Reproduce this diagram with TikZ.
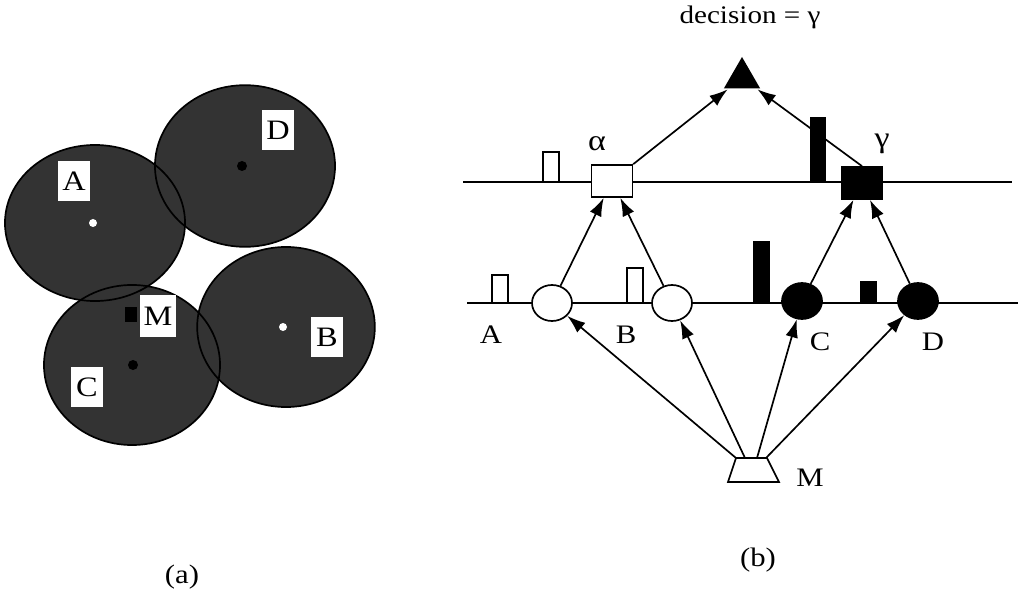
\documentclass[tikz,border=0pt]{standalone}
\usepackage{fontspec}
\setmainfont{Liberation Serif}
\newfontfamily\labfont[FakeStretch=1.15]{Liberation Serif}
\usetikzlibrary{arrows.meta,positioning,shapes.geometric,calc}

\tikzset{
  lab/.style={font=\labfont\fontsize{19}{22}\selectfont,inner sep=0pt},
  greek/.style={font=\labfont\fontsize{21}{24}\selectfont,inner sep=0pt},
  wunit/.style={ellipse,draw,fill=white,minimum width=1cm,minimum height=0.9cm,inner sep=0pt},
  bunit/.style={wunit,fill=black},
  wclass/.style={rectangle,draw,fill=white,minimum width=1.03cm,minimum height=0.8cm,inner sep=0pt},
  bclass/.style={wclass,fill=black},
  zone/.style={fill=black!80},
  tag/.style={font=\labfont\fontsize{20}{22}\selectfont,inner sep=0pt,fill=white,minimum width=0.82cm,minimum height=1.0cm}
}

\begin{document}
\begin{tikzpicture}[x=0.025cm,y=-0.025cm,>={Latex[length=13pt,width=9pt]},line width=1.2pt]
\useasboundingbox (0,0) rectangle (1018,590);
% (a) receptive fields
\fill[zone] (245,166) ellipse [x radius=2.25cm,y radius=2.02cm];
\fill[zone] (286,327) ellipse [x radius=2.22cm,y radius=2.0cm];
\fill[zone] (132,365) ellipse [x radius=2.2cm,y radius=2.0cm];
\fill[zone] (95,223) ellipse [x radius=2.25cm,y radius=1.95cm];
\draw (245,166) ellipse [x radius=2.25cm,y radius=2.02cm];
\draw (286,327) ellipse [x radius=2.22cm,y radius=2.0cm];
\draw (132,365) ellipse [x radius=2.2cm,y radius=2.0cm];
\draw (95,223) ellipse [x radius=2.25cm,y radius=1.95cm];
\fill[white] (93,223) circle (0.1cm);
\fill[white] (283,327) circle (0.1cm);
\fill (242,166) circle (0.125cm);
\fill (133,365) circle (0.125cm);
\node[tag] (zA) at (74,181) {A};
\node[tag] (zD) at (278,130) {D};
\node[tag] (zC) at (87,387) {C};
\node[tag] (zB) at (327,337) {B};
\node[tag,minimum width=0.92cm,minimum height=1.07cm] (zM) at (158,316) {M};
\fill (125,307) rectangle (137,322);
\node[lab] (capa) at (182,577) {(a)};

% (b) network
\draw (463,182) -- (1012,182);
\draw (467,303) -- (1018,303);
\node[wunit] (nA) at (552,303) {};
\node[wunit] (nB) at (672,303) {};
\node[bunit] (nC) at (802,301) {};
\node[bunit] (nD) at (918,301) {};
\node[wclass] (alpha) at (612,181) {};
\node[bclass] (gamma) at (862,183) {};
\node[regular polygon,regular polygon sides=3,fill=black,minimum size=1.05cm,inner sep=0pt] (dec) at (742,78) {};
% model unit
\draw[fill=white] (728,482) -- (736,458) -- (767,458) -- (779,482) -- cycle;
\coordinate (m1) at (736,458);
\coordinate (m2) at (745,458);
\coordinate (m3) at (757,458);
\coordinate (m4) at (766,458);
\node[lab,font=\labfont\fontsize{18}{20}\selectfont] (top) at (750,17) {decision = γ};
\node[greek] at (597,144) {α};
\node[greek] at (882,144) {γ};
\node[lab] at (491,335) {A};
\node[lab] at (626,335) {B};
\node[lab] at (820,342) {C};
\node[lab] at (933,342) {D};
\node[lab] (M) at (810,478) {M};
\node[lab] (capb) at (758,560) {(b)};
% connections
\foreach \s in {nA,nB} \draw[->] (\s) -- (alpha);
\foreach \s in {nC,nD} \draw[->] (\s) -- (gamma);
\draw[->] (alpha) -- (dec);
\draw[->] (gamma.north) -- (dec);
\draw[->] (m1) -- (nA);
\draw[->] (m2) -- (nB);
\draw[->] (m3) -- (nC);
\draw[->] (m4) -- (nD);
% activation bars
\draw[fill=white] (543,182) rectangle (559,152);
\fill (810,182) rectangle (826,117);
\draw[fill=white] (492,303) rectangle (508,275);
\draw[fill=white] (627,303) rectangle (643,268);
\fill (753,303) rectangle (770,241);
\fill (860,303) rectangle (877,281);
\end{tikzpicture}
\end{document}
